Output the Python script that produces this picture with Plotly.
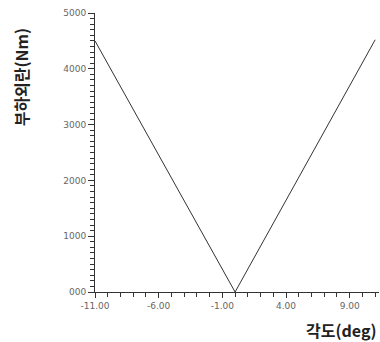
import plotly.graph_objects as go

angle_deg = [-11.0, 0.0, 11.0]
load_torque = [4500, 0, 4520]

x_tick_vals = [-11, -6, -1, 4, 9]
x_tick_text = ["-11.00", "-6.00", "-1.00", "4.00", "9.00"]
y_tick_vals = [0, 1000, 2000, 3000, 4000, 5000]
y_tick_text = ["000", "1000", "2000", "3000", "4000", "5000"]

fig = go.Figure()
fig.add_trace(go.Scatter(x=angle_deg, y=load_torque, mode="lines",
                         line=dict(color="#333333", width=1), showlegend=False,
                         cliponaxis=False))

fig.update_layout(
    width=380, height=342,
    margin=dict(l=95, r=1, t=13, b=50),
    paper_bgcolor="white", plot_bgcolor="white",
    font=dict(family="DejaVu Sans", size=9, color="#555555"),
    xaxis=dict(range=[-11, 11.3], tickmode="array", tickvals=x_tick_vals, ticktext=x_tick_text,
               showgrid=False, zeroline=False, showline=True, linecolor="#333333", linewidth=1,
               ticks="outside", ticklen=5, tickcolor="#333333",
               minor=dict(tickmode="linear", dtick=1, tick0=-11, ticks="outside", ticklen=4,
                          tickcolor="#333333", showgrid=False),
               tickfont=dict(size=9, color="#666666")),
    yaxis=dict(range=[0, 5000], tickmode="array", tickvals=y_tick_vals, ticktext=y_tick_text,
               showgrid=False, zeroline=False, showline=True, linecolor="#333333", linewidth=1,
               ticks="outside", ticklen=6, tickcolor="#333333",
               minor=dict(tickmode="linear", dtick=100, tick0=0, ticks="outside", ticklen=4,
                          tickcolor="#333333", showgrid=False),
               tickfont=dict(size=9, color="#666666")),
)

fig.add_annotation(text="<b>부하외란(Nm)</b>", xref="paper", yref="paper",
                   x=-0.26, y=0.77, textangle=-90, showarrow=False,
                   font=dict(family="Noto Sans CJK KR", size=16, color="#222222"),
                   xanchor="center", yanchor="middle")
fig.add_annotation(text="<b>각도(deg)</b>", xref="paper", yref="paper",
                   x=1.0, y=-0.136, showarrow=False,
                   font=dict(family="Noto Sans CJK KR", size=16, color="#222222"),
                   xanchor="right", yanchor="middle")

fig.write_html("out.html", config={"displayModeBar": False},
               post_script="document.body.style.margin='0';document.body.style.overflow='hidden';")
